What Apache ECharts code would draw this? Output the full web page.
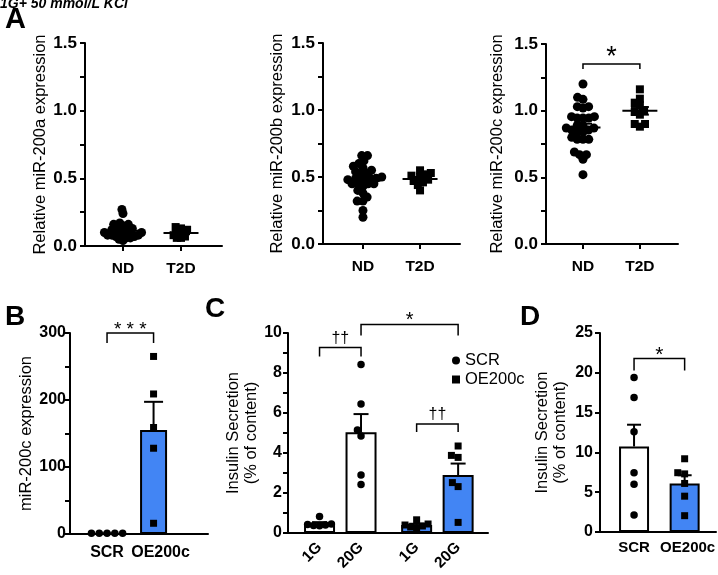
<!DOCTYPE html>
<html><head><meta charset="utf-8">
<script src="https://cdn.jsdelivr.net/npm/echarts@6/dist/echarts.min.js"></script>
<style>html,body{margin:0;padding:0;background:#fff}#c{width:718px;height:575px}</style>
</head><body><div id="c"></div>
<script>
// ================= DATA =================
const groupsA = ['ND', 'T2D'];
const mir200a_ND = [0.27,0.24,0.17,0.16,0.16,0.15,0.14,0.13,0.13,0.12,0.12,0.11,0.11,0.10,0.10,0.10,0.09,0.09,0.08,0.08,0.08,0.08,0.07,0.07,0.06,0.06,0.05,0.04];
const mir200a_T2D = [0.14,0.13,0.12,0.11,0.10,0.09,0.08,0.07,0.06,0.06];
const mir200b_ND = [0.66,0.66,0.62,0.60,0.58,0.57,0.55,0.54,0.53,0.52,0.50,0.49,0.49,0.49,0.48,0.48,0.45,0.45,0.45,0.45,0.43,0.40,0.38,0.35,0.32,0.32,0.25,0.20];
const mir200b_T2D = [0.55,0.53,0.52,0.51,0.50,0.48,0.47,0.46,0.44,0.40];
const mir200c_ND = [1.20,1.10,1.085,1.03,1.03,1.02,0.955,0.955,0.945,0.945,0.945,0.89,0.89,0.87,0.87,0.855,0.855,0.84,0.84,0.80,0.785,0.785,0.785,0.69,0.67,0.67,0.635,0.52];
const mir200c_T2D = [1.16,1.06,1.09,1.04,1.00,0.99,0.97,0.90,0.88,0.90];
const ticksA = [0, 0.5, 1.0, 1.5];

const groupsB = ['SCR', 'OE200c'];
const mir200cB_SCR = [1, 1, 1, 1, 1];
const mir200cB_OE = [265, 209, 159, 128, 16];
const ticksB = [0, 100, 200, 300];

const groupsC = ['1G', '20G', '1G', '20G'];
const insC_SCR_1G = [0.82, 0.45, 0.42, 0.40, 0.38, 0.36];
const insC_SCR_20G = [8.43, 6.45, 5.15, 4.85, 2.90, 2.42];
const insC_OE_1G = [0.66, 0.45, 0.40, 0.35, 0.30, 0.27];
const insC_OE_20G = [4.35, 3.88, 3.78, 2.52, 2.32, 0.53];
const ticksC = [0, 2, 4, 6, 8, 10];

const groupsD = ['SCR', 'OE200c'];
const insD_SCR = [19.4, 16.9, 12.6, 7.45, 6.0, 2.13];
const insD_OE = [9.2, 7.45, 7.3, 6.1, 4.5, 2.05];
const ticksD = [0, 5, 10, 15, 20, 25];

const sigA3 = [{a: 0, b: 1, y: 1.35, text: '*'}];
const sigB = [{a: 0, b: 1, y: 300, text: '* * *'}];
const sigC = [{a: 0, b: 1, y: 9.28, text: '††'}, {a: 1, b: 3, y: 10.43, text: '*'}, {a: 2, b: 3, y: 5.45, text: '††'}];
const sigD = [{a: 0, b: 1, y: 21.8, text: '*'}];

// ================= LAYOUT / STYLE =================
const FONT = '"Liberation Sans", Arial, sans-serif';
const BLUE = '#4285F4';
const layout = {
  A1: {grid: {left: 85, top: 43, width: 137, height: 203}, x: [0.345, 2.707], pos: [1, 2], nameGap: 36},
  A2: {grid: {left: 323, top: 43, width: 137, height: 201}, x: [0.30, 2.70], pos: [1, 2], nameGap: 37},
  A3: {grid: {left: 546, top: 44, width: 132, height: 200}, x: [0.35, 2.67], pos: [1, 2], nameGap: 40},
  B:  {grid: {left: 70, top: 333, width: 138, height: 201}, x: [0.204, 3.17], pos: [1, 2], nameGap: 34},
  C:  {grid: {left: 288, top: 333, width: 200, height: 200}, x: [0.24, 5.06], pos: [1, 2, 3.34, 4.34], nameGap: 28},
  D:  {grid: {left: 600, top: 333, width: 116, height: 199}, x: [0.327, 2.62], pos: [1, 2], nameGap: 31}
};

function mean(a) { return a.reduce((s, v) => s + v, 0) / a.length; }
function sem(a) { const m = mean(a); const v = a.reduce((s, x) => s + (x - m) * (x - m), 0) / (a.length - 1); return Math.sqrt(v / a.length); }

// beeswarm offsets (pixels) computed from values
function swarm(values, pxPerY, diam) {
  const idx = values.map((v, i) => i).sort((a, b) => values[a] - values[b]);
  const placed = [], offs = new Array(values.length);
  for (const i of idx) {
    const y = values[i] * pxPerY;
    const iv = [];
    for (const p of placed) {
      const dy = y - p.y;
      if (Math.abs(dy) < diam) { const dx = Math.sqrt(diam * diam - dy * dy); iv.push([p.x - dx, p.x + dx]); }
    }
    const cands = [0]; iv.forEach(r => cands.push(r[0], r[1]));
    let best = null;
    for (const c of cands) {
      if (iv.some(r => c > r[0] + 1e-6 && c < r[1] - 1e-6)) continue;
      if (best === null || Math.abs(c) < Math.abs(best) - 1e-6) best = c;
    }
    offs[i] = best; placed.push({x: best, y});
  }
  return offs;
}

const grids = [], xAxes = [], yAxes = [], series = [];
let idx = 0;
function addPanel(key, cats, ticks, yName, opt) {
  const L = layout[key];
  const i = idx++;
  grids.push(Object.assign({outerBoundsMode: 'none', containLabel: false}, L.grid));
  const pos = L.pos;
  const step = ticks[1] - ticks[0];
  const interval = opt.minor ? step / 2 : step;
  const shift = opt.shift || [];
  const rich = {};
  cats.forEach((c, k) => { rich['s' + k] = {fontWeight: 'bold', fontSize: opt.xFont, fontFamily: FONT, color: '#000', padding: [0, 0, 0, 2 * (shift[k] || 0)]}; });
  xAxes.push({
    type: 'value', gridIndex: i, min: L.x[0], max: L.x[1],
    axisLine: {show: true, onZero: false, lineStyle: {color: '#000', width: 2}},
    splitLine: {show: false},
    axisTick: opt.xTicks ? {show: true, customValues: pos, length: 5, lineStyle: {color: '#000', width: 2}} : {show: false},
    axisLabel: {
      customValues: pos, color: '#000', fontWeight: 'bold', fontSize: opt.xFont, fontFamily: FONT,
      margin: opt.xMargin, rotate: opt.rotate || 0, rich,
      formatter: v => { let k = 0; pos.forEach((p, j) => { if (Math.abs(p - v) < 1e-6) k = j; }); return shift[k] ? '{s' + k + '|' + cats[k] + '}' : cats[k]; }
    }
  });
  yAxes.push({
    type: 'value', gridIndex: i, min: ticks[0], max: ticks[ticks.length - 1], interval,
    name: yName, nameLocation: 'middle', nameGap: L.nameGap, nameRotate: 90,
    nameTextStyle: {color: '#000', fontSize: 16.5, fontFamily: FONT, lineHeight: 18},
    axisLine: {show: true, lineStyle: {color: '#000', width: 2}},
    axisTick: {show: true, length: 5, lineStyle: {color: '#000', width: 2}},
    splitLine: {show: false},
    axisLabel: {color: '#000', fontWeight: 'bold', fontSize: opt.yFont, fontFamily: FONT, margin: opt.yMargin,
      formatter: v => ticks.some(t => Math.abs(t - v) < 1e-9) ? (opt.dec ? v.toFixed(opt.dec) : String(v)) : ''}
  });
  const pxY = L.grid.height / (ticks[ticks.length - 1] - ticks[0]);
  const pxX = L.grid.width / (L.x[1] - L.x[0]);
  return {i, pos, pxY, pxX};
}

function scatterSeries(P, name, k, vals, symbol, size, diam) {
  const offs = swarm(vals, P.pxY, diam);
  series.push({
    type: 'scatter', name, xAxisIndex: P.i, yAxisIndex: P.i, symbol, symbolSize: size, z: 4,
    itemStyle: {color: '#000', opacity: 1}, silent: true,
    data: vals.map((v, j) => [P.pos[k] + offs[j] / P.pxX, v])
  });
}

function errSeries(P, items, cfg) {
  series.push({
    type: 'custom', xAxisIndex: P.i, yAxisIndex: P.i, z: cfg.z || 3, clip: false, silent: true,
    data: items,
    renderItem: (params, api) => {
      const x = api.value(0), m = api.value(1), s = api.value(2);
      const c = api.coord([x, m]), t = api.coord([x, m + s]), b = api.coord([x, m - s]);
      const st = {stroke: '#000', lineWidth: 2};
      const ch = [];
      if (cfg.meanW) ch.push({type: 'line', shape: {x1: c[0] - cfg.meanW / 2, y1: c[1], x2: c[0] + cfg.meanW / 2, y2: c[1]}, style: st});
      ch.push({type: 'line', shape: {x1: c[0], y1: cfg.both ? b[1] : c[1], x2: c[0], y2: t[1]}, style: st});
      ch.push({type: 'line', shape: {x1: c[0] - cfg.cap / 2, y1: t[1], x2: c[0] + cfg.cap / 2, y2: t[1]}, style: st});
      if (cfg.both) ch.push({type: 'line', shape: {x1: c[0] - cfg.cap / 2, y1: b[1], x2: c[0] + cfg.cap / 2, y2: b[1]}, style: st});
      return {type: 'group', children: ch};
    }
  });
}

function barSeries(P, items, colors, width) {
  series.push({
    type: 'bar', xAxisIndex: P.i, yAxisIndex: P.i, barWidth: width, z: 2, silent: true,
    data: items.map((d, j) => ({value: d, itemStyle: {color: colors[j], borderColor: '#000', borderWidth: 2}}))
  });
}

function bracketSeries(P, list, cfg) {
  series.push({
    type: 'custom', xAxisIndex: P.i, yAxisIndex: P.i, z: 3, clip: false, silent: true,
    data: list.map(b => [P.pos[b.a], P.pos[b.b], b.y]),
    renderItem: (params, api) => {
      const b = list[params.dataIndex];
      const p1 = api.coord([api.value(0), api.value(2)]), p2 = api.coord([api.value(1), api.value(2)]);
      const drop = (cfg.drops && cfg.drops[params.dataIndex]) || cfg.drop;
      return {type: 'group', children: [
        {type: 'polyline', shape: {points: [[p1[0], p1[1] + drop], [p1[0], p1[1]], [p2[0], p2[1]], [p2[0], p2[1] + drop]]},
          style: {stroke: '#000', lineWidth: 1.5, fill: null}},
        {type: 'text', x: (p1[0] + p2[0]) / 2, y: p1[1] - ((cfg.gaps && cfg.gaps[params.dataIndex]) || cfg.gap),
          style: {text: b.text, fontSize: (cfg.sizes && cfg.sizes[params.dataIndex]) || cfg.size, fontFamily: FONT, fill: '#000', align: 'center', verticalAlign: 'middle'}}
      ]};
    }
  });
}

// ---- Panel A ----
const aSets = [
  ['A1', 'Relative miR-200a expression', mir200a_ND, mir200a_T2D, 4.2],
  ['A2', 'Relative miR-200b expression', mir200b_ND, mir200b_T2D, 5.8],
  ['A3', 'Relative miR-200c expression', mir200c_ND, mir200c_T2D, 5.8]
];
aSets.forEach(([key, nm, nd, t2d, diam]) => {
  const P = addPanel(key, groupsA, ticksA, nm, {xTicks: true, xMargin: 15, yMargin: 8, minor: true, dec: 1, xFont: 15.5, yFont: 17});
  scatterSeries(P, key + ' ND', 0, nd, 'circle', 9, diam);
  scatterSeries(P, key + ' T2D', 1, t2d, 'rect', 8, diam);
  errSeries(P, [[P.pos[0], mean(nd), sem(nd)], [P.pos[1], mean(t2d), sem(t2d)]], {meanW: 35, cap: 18, both: true, z: 5});
  if (key === 'A3') bracketSeries(P, sigA3, {drop: 5, gap: 6, size: 27});
});

// ---- Panel B ----
(function () {
  const P = addPanel('B', groupsB, ticksB, 'miR-200c expression', {xMargin: 11, yMargin: 4, minor: true, xFont: 16, yFont: 16, shift: [0, 7]});
  barSeries(P, [[P.pos[0], mean(mir200cB_SCR)], [P.pos[1], mean(mir200cB_OE)]], ['#fff', BLUE], 27);
  errSeries(P, [[P.pos[0], mean(mir200cB_SCR), sem(mir200cB_SCR)], [P.pos[1], mean(mir200cB_OE), sem(mir200cB_OE)]], {cap: 19});
  scatterSeries(P, 'B SCR', 0, mir200cB_SCR, 'circle', 7.5, 7.8);
  scatterSeries(P, 'B OE200c', 1, mir200cB_OE, 'rect', 7, 7);
  bracketSeries(P, sigB, {drop: 10, gap: 3, size: 19});
})();

// ---- Panel C ----
(function () {
  const P = addPanel('C', groupsC, ticksC, 'Insulin Secretion\n(% of content)', {xMargin: 12, yMargin: 6, minor: true, rotate: 45, xFont: 15.5, yFont: 16});
  const sets = [insC_SCR_1G, insC_SCR_20G, insC_OE_1G, insC_OE_20G];
  barSeries(P, sets.map((s, k) => [P.pos[k], mean(s)]), ['#fff', '#fff', BLUE, BLUE], 31);
  errSeries(P, sets.map((s, k) => [P.pos[k], mean(s), sem(s)]), {cap: 15});
  scatterSeries(P, 'SCR', 0, insC_SCR_1G, 'circle', 7.5, 6);
  scatterSeries(P, 'SCR', 1, insC_SCR_20G, 'circle', 7.5, 7);
  scatterSeries(P, 'OE200c', 2, insC_OE_1G, 'rect', 7, 6);
  scatterSeries(P, 'OE200c', 3, insC_OE_20G, 'rect', 7, 7);
  bracketSeries(P, sigC, {drop: 9, drops: [9, 11, 8], gap: 9, gaps: [9, 4, 9], size: 16, sizes: [16, 20, 16]});
})();

// ---- Panel D ----
(function () {
  const P = addPanel('D', groupsD, ticksD, 'Insulin Secretion\n(% of content)', {xMargin: 8, yMargin: 7, xFont: 15, yFont: 16, shift: [0, 3]});
  barSeries(P, [[P.pos[0], mean(insD_SCR)], [P.pos[1], mean(insD_OE)]], ['#fff', BLUE], 30);
  errSeries(P, [[P.pos[0], mean(insD_SCR), sem(insD_SCR)], [P.pos[1], mean(insD_OE), sem(insD_OE)]], {cap: 14});
  scatterSeries(P, 'D SCR', 0, insD_SCR, 'circle', 7.5, 7);
  scatterSeries(P, 'D OE200c', 1, insD_OE, 'rect', 7, 7);
  bracketSeries(P, sigD, {drop: 12, gap: 3, size: 21});
})();

const chart = echarts.init(document.getElementById('c'), null, {renderer: 'canvas'});
chart.setOption({
  animation: false,
  backgroundColor: '#fff',
  textStyle: {fontFamily: FONT},
  grid: grids, xAxis: xAxes, yAxis: yAxes, series,
  legend: {
    orient: 'vertical', left: 447, top: 347, itemWidth: 8, itemHeight: 8, itemGap: 2,
    textStyle: {color: '#000', fontSize: 16.5, fontFamily: FONT},
    data: [{name: 'SCR', icon: 'circle'}, {name: 'OE200c', icon: 'rect'}],
    selectedMode: false
  },
  graphic: [
    {type: 'text', x: 0, y: -3, style: {text: '1G+ 50 mmol/L KCl', font: 'italic bold 14px ' + FONT, fill: '#000', verticalAlign: 'top'}},
    {type: 'text', x: 5, y: 5, style: {text: 'A', font: 'bold 29px ' + FONT, fill: '#000', verticalAlign: 'top'}},
    {type: 'text', x: 5, y: 303, style: {text: 'B', font: 'bold 28px ' + FONT, fill: '#000', verticalAlign: 'top'}},
    {type: 'text', x: 205, y: 295, style: {text: 'C', font: 'bold 28px ' + FONT, fill: '#000', verticalAlign: 'top'}},
    {type: 'text', x: 520, y: 303, style: {text: 'D', font: 'bold 28px ' + FONT, fill: '#000', verticalAlign: 'top'}}
  ]
});
</script></body></html>
